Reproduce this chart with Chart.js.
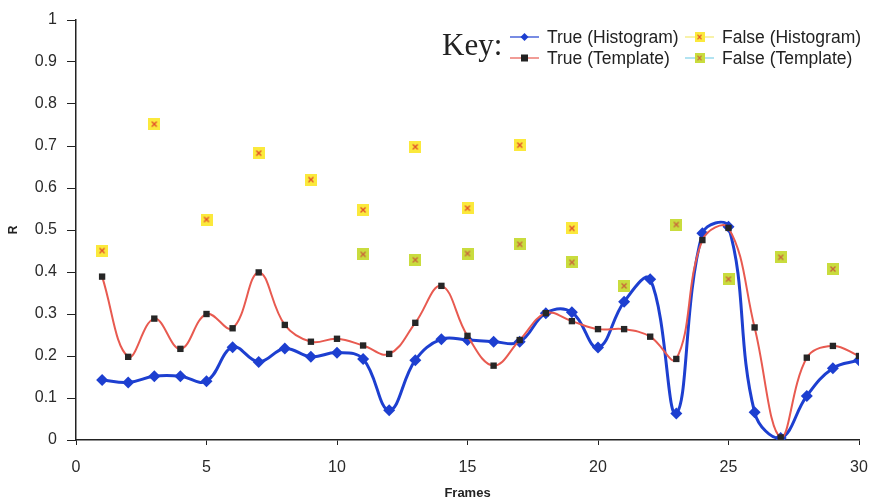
<!DOCTYPE html>
<html>
<head>
<meta charset="utf-8">
<style>
  html, body { margin: 0; padding: 0; background: #fff; }
  #wrap { width: 871px; height: 503px; }
</style>
<script src="https://cdn.jsdelivr.net/npm/chart.js@4"></script>
</head>
<body>
<div id="wrap"><canvas id="chart" width="871" height="503"></canvas></div>
<script>
'use strict';
// frames and R values
const frames = [1, 2, 3, 4, 5, 6, 7, 8, 9, 10, 11, 12, 13, 14, 15,
  16, 17, 18, 19, 20, 21, 22, 23, 24, 25, 26, 27, 28, 29, 30];
const trueHistogram = [0.143, 0.137, 0.152, 0.152, 0.140, 0.221, 0.186, 0.218, 0.198, 0.208,
  0.193, 0.071, 0.190, 0.240, 0.238, 0.234, 0.234, 0.302, 0.304, 0.220,
  0.329, 0.383, 0.063, 0.492, 0.508, 0.066, 0.005, 0.105, 0.171, 0.190];
const trueTemplate = [0.389, 0.198, 0.289, 0.217, 0.300, 0.266, 0.399, 0.274, 0.234, 0.241,
  0.225, 0.205, 0.279, 0.367, 0.248, 0.177, 0.238, 0.302, 0.283, 0.264,
  0.264, 0.246, 0.193, 0.476, 0.505, 0.268, 0.006, 0.196, 0.224, 0.200];
const falseHistFrames = [1, 3, 5, 7, 9, 11, 13, 15, 17, 19];
const falseHistogram = [0.451, 0.752, 0.525, 0.683, 0.620, 0.548, 0.698, 0.552, 0.702, 0.504];
const falseTemplFrames = [11, 13, 15, 17, 19, 21, 23, 25, 27, 29];
const falseTemplate = [0.442, 0.429, 0.444, 0.466, 0.423, 0.367, 0.513, 0.383, 0.435, 0.407];
const xTicks = [0, 5, 10, 15, 20, 25, 30];
const yTicks = ['0', '0.1', '0.2', '0.3', '0.4', '0.5', '0.6', '0.7', '0.8', '0.9', '1'];

function pairs(xs, ys) {
  return xs.map((x, i) => ({ x: x, y: ys[i] }));
}

// yellow / green square with a red cross, like the Excel markers
function crossMarker(fill, cross) {
  const c = document.createElement('canvas');
  c.width = 12; c.height = 12;
  const g = c.getContext('2d');
  g.fillStyle = fill;
  g.fillRect(0, 0, 12, 12);
  g.strokeStyle = cross;
  g.lineWidth = 1.4;
  g.beginPath();
  g.moveTo(3.5, 3.5); g.lineTo(8.5, 8.5);
  g.moveTo(8.5, 3.5); g.lineTo(3.5, 8.5);
  g.stroke();
  return c;
}
const yellowMark = crossMarker('#fbe93c', '#e2502a');
const greenMark = crossMarker('#c9dc3e', '#c8683a');

const blue = '#1d3fd0';
const red = '#e85a50';
const labelFont = '"Liberation Sans", Arial, sans-serif';

// legend drawn inside the plot, top right, with the "Key:" caption
const keyLegend = {
  id: 'keyLegend',
  afterDraw(chart) {
    const ctx = chart.ctx;
    ctx.save();
    ctx.fillStyle = '#222';
    ctx.font = '31px "Liberation Serif", serif';
    ctx.textBaseline = 'alphabetic';
    ctx.fillText('Key:', 442, 55);
    const rows = [
      { x: 510, y: 37, color: blue, label: 'True (Histogram)', mark: 'diamond' },
      { x: 510, y: 58, color: red, label: 'True (Template)', mark: 'square' },
      { x: 685, y: 37, color: '#f4ea70', label: 'False (Histogram)', mark: yellowMark },
      { x: 685, y: 58, color: '#7fd0e8', label: 'False (Template)', mark: greenMark }
    ];
    ctx.textBaseline = 'middle';
    rows.forEach(r => {
      ctx.strokeStyle = r.color;
      ctx.lineWidth = 1.2;
      ctx.beginPath();
      ctx.moveTo(r.x, r.y); ctx.lineTo(r.x + 29, r.y);
      ctx.stroke();
      const cx = r.x + 14.5;
      if (r.mark === 'diamond') {
        ctx.fillStyle = blue;
        ctx.beginPath();
        ctx.moveTo(cx, r.y - 4); ctx.lineTo(cx + 4, r.y); ctx.lineTo(cx, r.y + 4); ctx.lineTo(cx - 4, r.y);
        ctx.closePath(); ctx.fill();
      } else if (r.mark === 'square') {
        ctx.fillStyle = '#222';
        ctx.fillRect(cx - 3.5, r.y - 3.5, 7, 7);
      } else {
        ctx.drawImage(r.mark, cx - 5, r.y - 5, 10, 10);
      }
      ctx.fillStyle = '#222';
      ctx.font = '17.5px ' + labelFont;
      ctx.fillText(r.label, r.x + 37, r.y + 1);
    });
    ctx.restore();
  }
};

new Chart(document.getElementById('chart'), {
  type: 'line',
  data: {
    datasets: [
      {
        label: 'True (Template)',
        data: pairs(frames, trueTemplate),
        borderColor: red,
        borderWidth: 2,
        tension: 0.4,
        pointStyle: 'rect',
        pointRadius: 4.5,
        pointBackgroundColor: '#262626',
        pointBorderColor: '#262626',
        pointBorderWidth: 0,
        order: 2
      },
      {
        label: 'True (Histogram)',
        data: pairs(frames, trueHistogram),
        borderColor: blue,
        borderWidth: 3,
        tension: 0.4,
        pointStyle: 'rectRot',
        pointRadius: 6,
        pointBackgroundColor: blue,
        pointBorderColor: blue,
        pointBorderWidth: 0,
        order: 3
      },
      {
        label: 'False (Histogram)',
        data: pairs(falseHistFrames, falseHistogram),
        showLine: false,
        pointStyle: yellowMark,
        order: 1
      },
      {
        label: 'False (Template)',
        data: pairs(falseTemplFrames, falseTemplate),
        showLine: false,
        pointStyle: greenMark,
        order: 1
      }
    ]
  },
  options: {
    responsive: false,
    animation: false,
    layout: { padding: { left: 0, right: 12, top: 20, bottom: 0 } },
    plugins: {
      legend: { display: false },
      tooltip: { enabled: false }
    },
    scales: {
      x: {
        type: 'linear',
        min: 0,
        max: 30,
        afterFit: s => { s.height = 63; s.paddingRight = 2; s.paddingLeft = 0; },
        afterBuildTicks: s => { s.ticks = xTicks.map(v => ({ value: v })); },
        grid: { drawOnChartArea: false, color: '#222', tickLength: 5, tickWidth: 1 },
        border: { color: '#222', width: 1.5 },
        ticks: {
          color: '#2a2a2a',
          padding: 13,
          font: { family: labelFont, size: 16 },
          maxRotation: 0
        },
        title: {
          display: true,
          text: 'Frames',
          color: '#222',
          font: { family: labelFont, size: 13, weight: 'bold' },
          padding: { top: 4, bottom: 2 }
        }
      },
      y: {
        min: 0,
        max: 1,
        afterFit: s => { s.width = 76; },
        afterBuildTicks: s => { s.ticks = yTicks.map(v => ({ value: Number(v) })); },
        grid: { drawOnChartArea: false, color: '#222', tickLength: 9, tickWidth: 1 },
        border: { color: '#222', width: 1.5 },
        ticks: {
          color: '#2a2a2a',
          padding: 10,
          font: { family: labelFont, size: 16 },
          callback: (v, i) => yTicks[i]
        },
        title: {
          display: true,
          text: 'R',
          color: '#222',
          font: { family: labelFont, size: 12, weight: 'bold' },
          padding: { top: 6, bottom: 0 }
        }
      }
    }
  },
  plugins: [keyLegend]
});
</script>
</body>
</html>
